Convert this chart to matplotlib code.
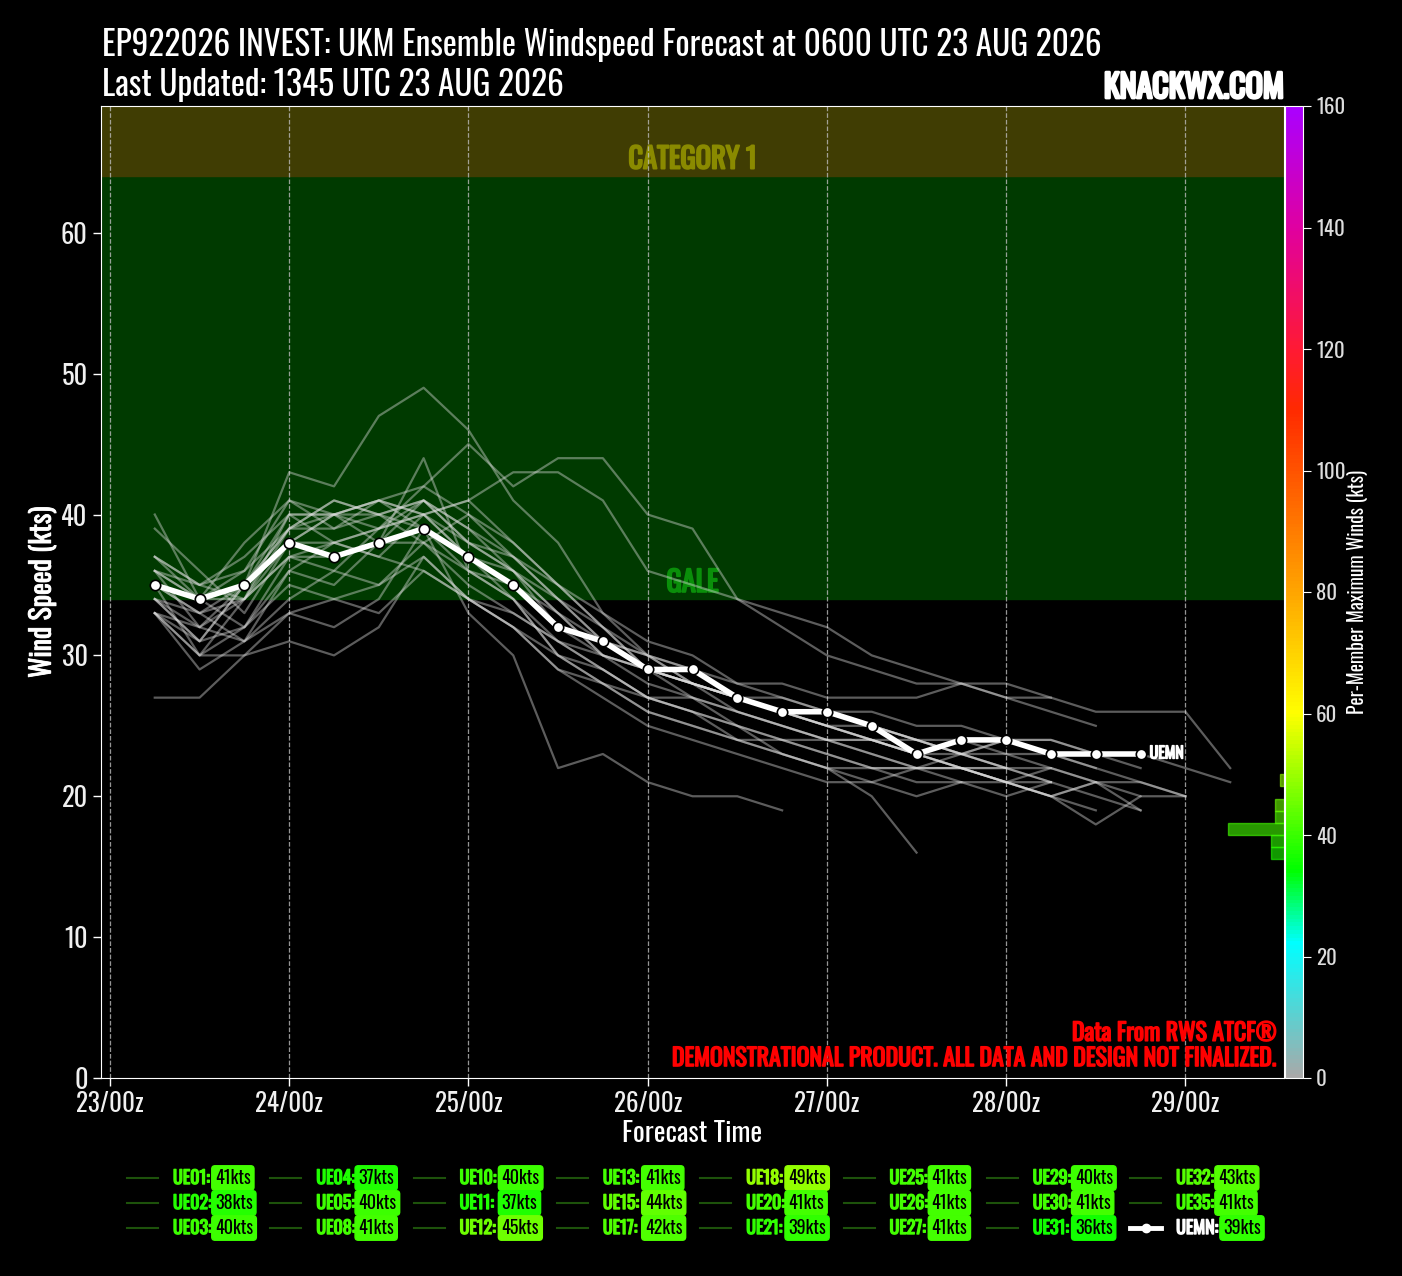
import numpy as np
import matplotlib
matplotlib.use("Agg")
import matplotlib.pyplot as plt
import matplotlib.patheffects as pe
from matplotlib import font_manager
from matplotlib.colors import LinearSegmentedColormap, Normalize
from matplotlib.lines import Line2D
from matplotlib.cm import ScalarMappable

names = {f.name for f in font_manager.fontManager.ttflist}
FONT = 'DejaVu Sans'
for cand in ['Oswald', 'Roboto Condensed', 'Liberation Sans Narrow']:
    if cand in names:
        FONT = cand
        break
plt.rcParams['font.family'] = [FONT, 'DejaVu Sans']


def bold(color, w=1.2):
    # fake a heavier weight by stroking the glyphs in their own colour
    return [pe.withStroke(linewidth=w, foreground=color)]


# forecast hours from 23/00z, 6-hourly
hours = list(range(6, 151, 6))
day_labels = ["23/00z", "24/00z", "25/00z", "26/00z", "27/00z", "28/00z", "29/00z"]

members = ["UE01", "UE02", "UE03", "UE04", "UE05", "UE08", "UE10", "UE11", "UE12", "UE13", "UE15", "UE17",
           "UE18", "UE20", "UE21", "UE25", "UE26", "UE27", "UE29", "UE30", "UE31", "UE32", "UE35"]
member_max = [41, 38, 40, 37, 40, 41, 40, 37, 45, 41, 44, 42, 49, 41, 39, 41, 41, 41, 40, 41, 36, 43, 41]

ue01 = [37, 35, 36, 41, 40, 39, 40, 37, 35, 33, 30, 28, 27, 25, 24, 24, 23, 22, 22, 21, 20, 19]
ue02 = [35, 33, 31, 36, 38, 37, 36, 34, 32, 29, 28, 26, 25, 24, 23, 22, 22, 21, 21, 20, 21]
ue03 = [39, 36, 33, 38, 40, 40, 39, 36, 34, 30, 28, 27, 26, 24, 24, 23, 22, 22, 22, 22]
ue04 = [33, 30, 30, 33, 34, 35, 37, 34, 32, 29, 27, 25, 24, 23, 22, 21, 21, 22, 23, 24, 23, 22, 21, 20]
ue05 = [36, 35, 34, 40, 40, 38, 38, 35, 33, 31, 30, 29, 28, 27, 26, 25, 24, 23, 22, 21, 21]
ue08 = [34, 32, 35, 39, 41, 40, 41, 38, 36, 33, 30, 29, 28, 27, 27, 26, 26, 25, 25, 24, 24, 23, 22]
ue10 = [40, 34, 32, 37, 36, 39, 40, 37, 34, 31, 29, 27, 26, 25, 23, 22, 20, 16]
ue11 = [27, 27, 30, 31, 30, 32, 37, 34, 32, 30, 28, 26, 25, 24, 23, 22, 21, 20, 21, 21, 22, 21]
ue12 = [34, 31, 35, 40, 38, 39, 42, 45, 42, 44, 44, 40, 39, 34, 33, 32, 30, 29, 28, 27, 27]
ue13 = [36, 34, 38, 41, 39, 40, 41, 38, 36, 32, 31, 29, 28, 27, 26, 26, 25, 24, 23, 22, 22]
ue15 = [35, 33, 34, 37, 37, 38, 44, 36, 34, 30, 29, 27, 27, 26, 25, 24, 24, 23, 23, 22]
ue17 = [37, 35, 37, 40, 40, 41, 42, 40, 38, 35, 33, 30, 28, 27, 26, 25, 25, 24, 23, 24, 24, 23, 23, 22, 21]
ue18 = [33, 31, 35, 43, 42, 47, 49, 46, 41, 38, 33, 31, 30, 28, 27, 26, 25, 24, 24, 23, 23, 22]
ue20 = [35, 30, 34, 39, 39, 41, 39, 37, 36, 33, 31, 30, 29, 27, 26, 25, 24, 23, 22, 21, 20, 21, 19]
ue21 = [33, 32, 31, 33, 32, 34, 39, 33, 30, 22, 23, 21, 20, 20, 19]
ue25 = [36, 34, 34, 37, 38, 37, 40, 41, 38, 35, 32, 29, 28, 27, 26, 25, 24, 24, 23, 23, 22, 21, 21, 20]
ue26 = [34, 31, 32, 36, 35, 38, 41, 39, 36, 34, 31, 30, 29, 28, 28, 27, 27, 27, 28, 28, 27, 26, 26, 26, 22]
ue27 = [36, 32, 34, 38, 40, 41, 40, 38, 37, 35, 32, 30, 28, 27, 26, 26, 25, 24, 23, 22, 21, 20, 19]
ue29 = [33, 29, 31, 34, 36, 35, 38, 40, 37, 34, 32, 29, 28, 26, 25, 24, 24, 23, 22, 21, 20, 18, 20]
ue30 = [34, 33, 35, 39, 41, 40, 38, 36, 35, 32, 30, 29, 27, 26, 25, 24, 23, 22, 22, 22, 21]
ue31 = [33, 30, 32, 35, 34, 33, 36, 34, 33, 31, 29, 27, 26, 25, 24, 23, 22, 22, 21]
ue32 = [37, 34, 36, 39, 40, 41, 40, 41, 43, 43, 41, 36, 35, 34, 32, 30, 29, 28, 28, 27, 26, 25]
ue35 = [35, 34, 35, 38, 38, 39, 41, 39, 37, 34, 31, 29, 28, 27, 26, 25, 24, 23, 22, 21, 20, 21, 20, 20]
series = [ue01, ue02, ue03, ue04, ue05, ue08, ue10, ue11, ue12, ue13, ue15, ue17,
          ue18, ue20, ue21, ue25, ue26, ue27, ue29, ue30, ue31, ue32, ue35]

uemn = [35, 34, 35, 38, 37, 38, 39, 37, 35, 32, 31, 29, 29, 27, 26, 26, 25, 23, 24, 24, 23, 23, 23]
uemn_max = 39

cmap = LinearSegmentedColormap.from_list("knack", [
    (0 / 160, '#a9a9a9'), (22 / 160, '#00ffff'), (34 / 160, '#00ff00'), (60 / 160, '#ffff00'),
    (80 / 160, '#ffa500'), (110 / 160, '#ff2a00'), (120 / 160, '#ff1a33'), (140 / 160, '#e0009f'),
    (160 / 160, '#aa00ff')])
norm = Normalize(0, 160)

W, H = 1402, 1276
fig = plt.figure(figsize=(W / 100, H / 100), dpi=100, facecolor='black')


def fx(px):
    return px / W


def fy(py):
    return 1 - py / H


ax = fig.add_axes([fx(101), fy(1078), fx(1284) - fx(101), fy(106) - fy(1078)])
ax.set_facecolor('black')

ax.axhspan(34, 64, color='#003a00', zorder=0)
ax.axhspan(64, 200, color='#403d03', zorder=0)

for vals in series:
    ax.plot(hours[:len(vals)], vals, color='#dddddd', alpha=0.42, lw=1.6, zorder=2)
ax.plot(hours[:len(uemn)], uemn, color='white', lw=4, marker='o', markersize=7.5,
        markerfacecolor='white', markeredgecolor='black', markeredgewidth=1.2, zorder=5)
ax.text(hours[len(uemn) - 1] + 1.2, uemn[-1], "UEMN", color='white', fontsize=11.5,
        va='center', ha='left', zorder=6, path_effects=bold('white', 1.0))

ax.set_ylim(0, 69)
ax.set_xticks(range(0, 145, 24))
ax.set_xticklabels(day_labels)
ax.set_yticks(range(0, 61, 10))
ax.tick_params(colors='white', labelsize=19, length=6, width=1)
ax.tick_params(axis='x', labelsize=18)
for lbl in ax.get_yticklabels() + ax.get_xticklabels():
    lbl.set_color('#f0f0f0')
ax.grid(axis='x', color='#bbbbbb', linestyle='--', lw=0.9, alpha=0.8)
for s in ax.spines.values():
    s.set_color('white')
ax.set_xlabel("Forecast Time", color='white', fontsize=20, labelpad=2)
ax.set_ylabel("Wind Speed (kts)", color='white', fontsize=20, labelpad=3,
              path_effects=bold('white', 0.6))

ax.text(0.5, 65.2, "CATEGORY 1", color='#8a8a00', fontsize=20.5, ha='center', va='center',
        transform=ax.get_yaxis_transform(), zorder=1, path_effects=bold('#8a8a00', 1.4))
ax.text(0.5, 35.15, "GALE", color='#0a8f0a', fontsize=20.5, ha='center', va='center',
        transform=ax.get_yaxis_transform(), zorder=1, path_effects=bold('#0a8f0a', 1.4))

ax.text(0.994, 0.046, "Data From RWS ATCF®", color='red', fontsize=17.2,
        ha='right', va='center', transform=ax.transAxes, zorder=7, path_effects=bold('red', 1.1))
ax.text(0.994, 0.02, "DEMONSTRATIONAL PRODUCT. ALL DATA AND DESIGN NOT FINALIZED.", color='red',
        fontsize=17.2, ha='right', va='center', transform=ax.transAxes, zorder=7,
        path_effects=bold('red', 1.1))

# colorbar
cax = fig.add_axes([fx(1285), fy(1078), fx(1303) - fx(1285), fy(106) - fy(1078)])
cb = fig.colorbar(ScalarMappable(norm=norm, cmap=cmap), cax=cax, ticks=range(0, 161, 20))
cb.outline.set_edgecolor('white')
cax.tick_params(colors='white', labelsize=15, length=6)
for lbl in cax.get_yticklabels():
    lbl.set_color('#dddddd')
cb.set_label("Per-Member Maximum Winds (kts)", color='white', fontsize=14, labelpad=1)

# histogram of per-member maxima next to colorbar
hax = fig.add_axes([fx(1198), fy(1078), fx(1284) - fx(1198), fy(106) - fy(1078)])
hax.patch.set_alpha(0)
edges = np.arange(0, 162, 2)
counts, _ = np.histogram(member_max + [uemn_max], bins=edges)
for c, lo in zip(counts, edges[:-1]):
    if c > 0:
        col = cmap(norm(lo + 1))
        hax.barh(lo, c, height=2, align='edge', color=col, alpha=0.6, edgecolor=col, lw=1)
hax.set_ylim(0, 160)
hax.set_xlim(20, 0)
hax.axis('off')

# titles
fig.text(fx(102), fy(45), "EP922026 INVEST: UKM Ensemble Windspeed Forecast at 0600 UTC 23 AUG 2026",
         color='white', fontsize=24, ha='left', va='center')
fig.text(fx(102), fy(85), "Last Updated: 1345 UTC 23 AUG 2026", color='white', fontsize=24,
         ha='left', va='center')
fig.text(fx(1284), fy(88), "KNACKWX.COM", color='white', fontsize=23,
         ha='right', va='center', path_effects=bold('white', 2.0))

# legend (3 rows, column-major)
col_step = 143.3
row_y = [1178, 1203, 1228]
entries = list(zip(members, member_max)) + [("UEMN", uemn_max)]
for k, (name, mx) in enumerate(entries):
    col, row = divmod(k, 3)
    x0 = 127 + col * col_step
    y0 = row_y[row]
    c = cmap(norm(mx))
    box_x = x0 + 88
    if name == "UEMN":
        fig.add_artist(Line2D([fx(x0), fx(x0 + 31)], [fy(y0), fy(y0)], color='white', lw=3.5,
                              transform=fig.transFigure))
        fig.add_artist(Line2D([fx(x0 + 15.5)], [fy(y0)], color='white', marker='o', markersize=6,
                              transform=fig.transFigure))
        tc = 'white'
        box_x = x0 + 93
    else:
        fig.add_artist(Line2D([fx(x0), fx(x0 + 31)], [fy(y0), fy(y0)], color='#1d520b', lw=1.5,
                              transform=fig.transFigure))
        tc = c
    fig.text(fx(x0 + 46), fy(y0), name + ":", color=tc, fontsize=13,
             ha='left', va='center', path_effects=bold(tc, 1.0))
    fig.text(fx(box_x), fy(y0), "%dkts" % mx, color='black', fontsize=13, ha='left', va='center',
             bbox=dict(boxstyle='round,pad=0.18', facecolor=c, edgecolor=c))

fig.savefig("out.png", dpi=100, facecolor='black')
